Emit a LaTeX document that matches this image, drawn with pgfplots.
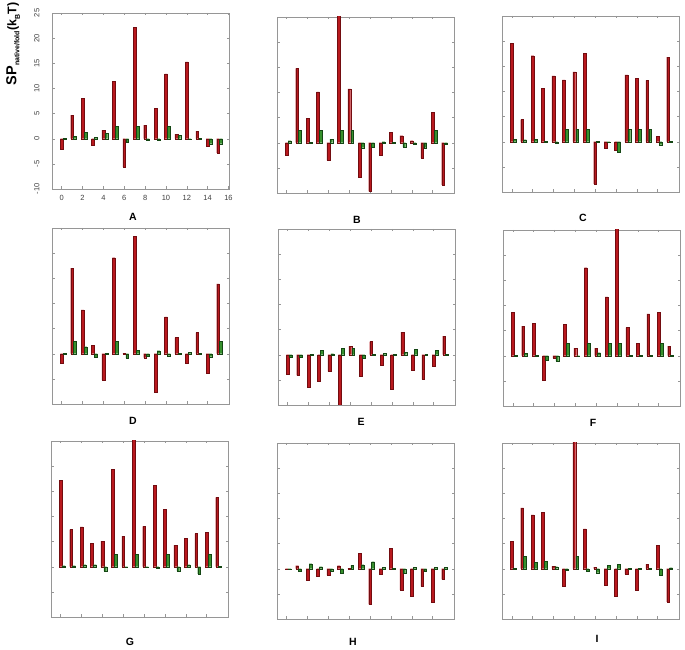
\documentclass[border=0pt]{standalone}
\usepackage{fontspec}
\setmainfont{Liberation Sans}
\usepackage{pgfplots}
\usepackage{pgfplotstable}
\pgfplotsset{compat=1.18}
\definecolor{barred}{RGB}{185,25,30}
\definecolor{barredE}{RGB}{115,12,16}
\definecolor{bargreen}{RGB}{55,145,45}
\definecolor{bargreenE}{RGB}{20,70,20}
\definecolor{axgray}{RGB}{150,150,150}

\pgfplotstableread{
i r g
0 -2.1 0.1
1 4.7 0.5
2 8.0 1.3
3 -1.3 0.3
4 1.7 1.1
5 11.4 2.5
6 -5.6 -0.7
7 22.1 2.5
8 2.7 -0.3
9 6.1 -0.2
10 12.9 2.5
11 0.9 0.7
12 15.3 -0.1
13 1.5 0.05
14 -1.5 -1.0
15 -2.8 -1.0
}\tA
\pgfplotstableread{
i r g
0 -2.4 0.4
1 14.8 2.5
2 4.9 0.05
3 10.1 2.5
4 -3.5 0.7
5 26 2.5
6 10.7 2.5
7 -6.8 -1.0
8 -9.7 -0.9
9 -2.4 0.2
10 2.0 0.1
11 1.4 -0.9
12 0.4 -0.2
13 -3.0 -1.0
14 6.1 2.5
15 -8.4 -0.3
}\tB
\pgfplotstableread{
i r g
0 19.6 0.5
1 4.4 0.4
2 17.1 0.5
3 10.6 0.1
4 13.1 -0.2
5 12.3 2.5
6 13.9 2.5
7 17.6 2.5
8 -8.4 0.05
9 -1.3 -0.1
10 -1.6 -2.0
11 13.3 2.5
12 12.6 2.5
13 12.2 2.5
14 1.05 -0.6
15 16.8 0.05
}\tC
\pgfplotstableread{
i r g
0 -1.8 0.1
1 17.0 2.5
2 8.7 1.4
3 1.7 -0.7
4 -5.2 0.05
5 19.1 2.5
6 0.1 -0.9
7 23.4 0.7
8 -0.8 -0.5
9 -7.6 0.6
10 7.3 -0.4
11 3.2 0.05
12 -1.8 0.3
13 4.2 0.05
14 -3.8 -0.6
15 13.9 2.5
}\tD
\pgfplotstableread{
i r g
0 -3.8 -0.5
1 -4.1 -0.5
2 -6.4 0.05
3 -5.3 0.9
4 -3.3 0.2
5 -10.5 1.3
6 1.7 1.3
7 -4.3 -0.7
8 2.6 0.05
9 -2.1 0.3
10 -6.9 0.05
11 4.5 0.5
12 -3.1 1.1
13 -4.9 0.05
14 -2.2 0.9
15 3.7 0.05
}\tE
\pgfplotstableread{
i r g
0 8.6 0.1
1 5.9 0.5
2 6.5 0.1
3 -4.9 -0.9
4 -0.5 -1.1
5 6.2 2.5
6 1.5 -0.1
7 17.5 2.5
8 1.5 0.6
9 11.7 2.5
10 26 2.5
11 5.6 0.05
12 2.5 0.05
13 8.3 0.05
14 8.6 2.5
15 1.9 0.05
}\tF
\pgfplotstableread{
i r g
0 17.2 0.2
1 7.4 0.2
2 7.9 0.4
3 4.7 0.4
4 5.1 -0.9
5 19.4 2.5
6 6.1 -0.1
7 26 2.5
8 8.0 -0.1
9 16.2 -0.2
10 11.4 2.5
11 4.3 -0.9
12 5.6 0.4
13 6.6 -1.4
14 6.9 2.5
15 13.8 0.05
}\tG
\pgfplotstableread{
i r g
0 -0.1 -0.1
1 0.6 -0.5
2 -2.3 1.0
3 -1.4 0.4
4 -1.3 -0.5
5 0.6 -0.9
6 0.1 0.7
7 3.1 0.8
8 -7.1 1.4
9 -1.1 0.3
10 4.1 0.05
11 -4.2 -0.9
12 -5.4 0.3
13 -3.5 -0.5
14 -6.6 0.3
15 -2.1 0.3
}\tH
\pgfplotstableread{
i r g
0 5.5 0.05
1 12.1 2.5
2 10.7 1.3
3 11.2 1.5
4 0.5 0.4
5 -3.4 -0.3
6 25.5 2.5
7 7.9 -0.5
8 0.3 -0.8
9 -3.2 0.7
10 -5.4 0.9
11 -1.1 0.1
12 -4.3 0.05
13 0.9 0.05
14 4.6 -1.3
15 -6.6 0.2
}\tI

\pgfplotsset{
  panel/.style={
    scale only axis, width=177pt, height=176pt,
    anchor=south west,
    xmin=-0.93, xmax=16.05, ymin=-10, ymax=25,
    xtick={0,2,...,14}, ytick={-10,-5,...,25},
    xticklabels={}, yticklabels={},
    tick align=inside, major tick length=2.5pt,
    axis line style={axgray, line width=0.6pt},
    major tick style={axgray, line width=0.4pt},
    clip=true,
  },
  redbar/.style={ybar, bar width=0.27, bar shift=0pt, fill=barred, draw=barredE, line width=0.3pt},
  greenbar/.style={ybar, bar width=0.27, bar shift=0pt, fill=bargreen, draw=bargreenE, line width=0.3pt},
}

\newcommand{\panel}[4]{%
  \begin{axis}[panel, at={(#1pt,#2pt)}, #4]
    \addplot[redbar] table[x=i, y=r] {#3};
    \addplot[greenbar] table[x expr=\thisrow{i}+0.28, y=g] {#3};
  \end{axis}}

\begin{document}
\begin{tikzpicture}
\path[use as bounding box] (0pt,0pt) rectangle (685pt,650pt);
\panel{52}{461}{\tA}{xtick={0,2,...,16}, xticklabels={0,2,4,6,8,10,12,14,16},
  yticklabels={-10,-5,0,5,10,15,20,25},
  /pgf/number format/assume math mode=true,
  xticklabel style={font=\fontsize{7.5}{8}\selectfont, text=black!75},
  yticklabel style={font=\fontsize{7.5}{8}\selectfont, text=black!75, rotate=90, anchor=south},
  yticklabel shift=9pt, xticklabel shift=3pt,
  }
\panel{277}{457}{\tB}{}
\panel{502}{458}{\tC}{}
\panel{52}{246}{\tD}{}
\panel{278}{245}{\tE}{}
\panel{503}{244}{\tF}{}
\panel{51}{33}{\tG}{}
\panel{277}{31}{\tH}{}
\panel{502}{31}{\tI}{}

\begin{scope}[every node/.style={font=\fontsize{10.5}{11}\selectfont\bfseries}]
\node at (133pt,433pt) {A};
\node at (357pt,430pt) {B};
\node at (583pt,432pt) {C};
\node at (133pt,229pt) {D};
\node at (361pt,228pt) {E};
\node at (593pt,227pt) {F};
\node at (130pt,8pt) {G};
\node at (353pt,8pt) {H};
\node at (597pt,11pt) {I};
\end{scope}

\node[rotate=90, inner sep=0pt, font=\bfseries] at (13pt,606pt)
  {{\fontsize{14.5}{15}\selectfont SP}\raisebox{-3pt}{\fontsize{7}{7}\selectfont native/fold}{\fontsize{12.5}{13}\selectfont (k}\raisebox{-3.5pt}{\fontsize{7}{7}\selectfont B}{\fontsize{12.5}{13}\selectfont T)}};
\end{tikzpicture}
\end{document}
